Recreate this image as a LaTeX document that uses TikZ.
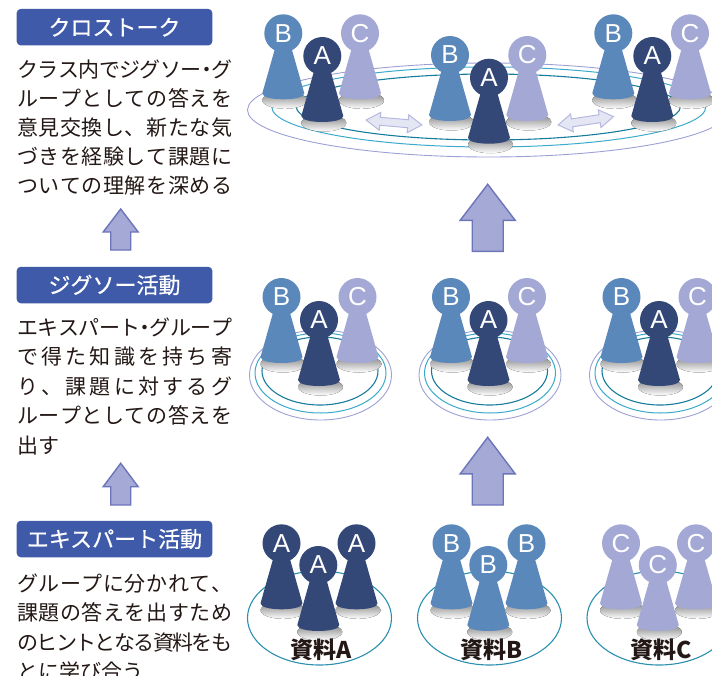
\documentclass[tikz,border=0pt]{standalone}
\usepackage{fontspec}
\setmainfont{Liberation Sans}
\newfontfamily\jpfont{Noto Sans CJK JP}
\newfontfamily\jpmedium{Noto Sans CJK JP}[FakeBold=0.6]

\definecolor{pawnA}{HTML}{344878}
\definecolor{pawnB}{HTML}{5B88BA}
\definecolor{pawnC}{HTML}{A3A8D5}
\definecolor{shade}{HTML}{D9DBDB}
\definecolor{boxblue}{HTML}{3F5AA8}
\definecolor{arrowfill}{HTML}{A4A9D6}
\definecolor{arrowline}{HTML}{6C74BA}
\definecolor{dblfill}{HTML}{E4E6F4}
\definecolor{dblline}{HTML}{B5B9DF}
\definecolor{ringpurple}{HTML}{9DA0D4}
\definecolor{ringteal}{HTML}{3BAACB}
\definecolor{ringdark}{HTML}{177C9C}
\definecolor{groupring}{HTML}{2B8FAE}
\definecolor{ink}{HTML}{231815}

% justified Japanese lines: glue between every character
\makeatletter
\def\jsep{\hskip 0pt plus 1fil minus 1fil\relax}
\def\sp@first#1{#1\sp@next}
\def\sp@next#1{\ifx\relax#1\else\jsep#1\expandafter\sp@next\fi}
\newcommand\jline[1]{\hbox to 215pt{\sp@first#1\relax}}
\makeatother
\newcommand\hdot{\makebox[0.5em]{・}}

\tikzset{
  bodytext/.style={anchor=base west, inner sep=0pt, text=ink,
    font=\jpfont\fontsize{21}{21}\selectfont},
  labelbox/.style={fill=boxblue, rounded corners=4pt, inner sep=0pt,
    minimum width=195.6pt, minimum height=36.5pt, text=white,
    font=\jpmedium\fontsize{22}{22}\selectfont},
  reslabel/.style={inner sep=0pt, text=ink,
    font=\jpfont\bfseries\fontsize{23}{23}\selectfont},
  pawnletter/.style={inner sep=0pt, text=white,
    font=\fontsize{26}{26}\selectfont},
  blockarrow/.style={fill=arrowfill, draw=arrowline, line width=1.4pt, line join=miter},
  dblstyle/.style={fill=dblfill, draw=dblline, line width=1pt},
  ringA/.style={draw=ringpurple, line width=0.9pt},
  ringB/.style={draw=ringteal, line width=1pt},
  ringC/.style={draw=ringdark, line width=1.1pt},
  pics/pawn/.style n args={2}{code={
    \fill[shade] (1.5,67) ellipse [x radius=22.5, y radius=8.5];
    \fill[#1] (-4,0) -- (-21,60) .. controls (-21,68) and (21,68) .. (21,60) -- (4,0) -- cycle;
    \fill[#1] (0,0) circle [radius=19];
    \node[pawnletter] (-l) at (0,0) {#2};
  }},
  pics/uparrow/.style n args={4}{code={
    \filldraw[blockarrow] (0,0) -- (#1,#2) -- (#3,#2) -- (#3,#4) -- (-#3,#4)
      -- (-#3,#2) -- (-#1,#2) -- cycle;
  }},
  pics/dblarrow/.style={code={
    \filldraw[dblstyle] (-28,0) -- (-14,-9) -- (-14,-4) -- (14,-4) -- (14,-9)
      -- (28,0) -- (14,9) -- (14,4) -- (-14,4) -- (-14,9) -- cycle;
  }},
}

\begin{document}
\begin{tikzpicture}[x=1pt,y=-1pt]
\useasboundingbox (0,0) rectangle (712,675);
\clip (0,0) rectangle (712,675);

% ---------- cross talk: whole class ----------
\draw[ringA] (488.5,110) ellipse [x radius=241, y radius=47];
\draw[ringB] (488.8,107) ellipse [x radius=217, y radius=40];
\draw[ringC] (488.3,107) ellipse [x radius=192, y radius=33];

\pic (t1-b) at (283.3,33.3) {pawn={pawnB}{B}};
\pic (t1-c) at (360,33.3) {pawn={pawnC}{C}};
\pic (t1-a) at (322.3,56) {pawn={pawnA}{A}};
\pic (t2-b) at (450,55) {pawn={pawnB}{B}};
\pic (t2-c) at (527.3,55) {pawn={pawnC}{C}};
\pic (t2-a) at (489,77.7) {pawn={pawnA}{A}};
\pic (t3-b) at (613.3,33.3) {pawn={pawnB}{B}};
\pic (t3-c) at (690,33.3) {pawn={pawnC}{C}};
\pic (t3-a) at (652.3,56) {pawn={pawnA}{A}};

\pic[rotate=-5] (x1) at (394,122.5) {dblarrow};
\pic[rotate=8.6] (x2) at (585.8,120.8) {dblarrow};

% ---------- upward block arrows ----------
\pic (up1) at (487.7,184.3) {uparrow={27.5}{36}{15.5}{67}};
\pic (up2) at (487.7,437.3) {uparrow={27.5}{36.5}{15.5}{67.7}};
\pic (up3) at (120.7,209) {uparrow={17.5}{23}{10}{41}};
\pic (up4) at (120.7,463.3) {uparrow={17.5}{23.4}{10}{41.7}};

% ---------- jigsaw groups ----------
\foreach \ax/\nm in {319/m1, 488.5/m2, 659/m3}{
  \draw[ringA] (\ax+1.5,375) ellipse [x radius=71, y radius=45];
  \draw[ringB] (\ax+1.5,373) ellipse [x radius=65.5, y radius=40];
  \draw[ringC] (\ax+1,371) ellipse [x radius=58, y radius=34];
  \pic (\nm-b) at (\ax-37.5,297) {pawn={pawnB}{B}};
  \pic (\nm-c) at (\ax+38.5,297) {pawn={pawnC}{C}};
  \pic (\nm-a) at (\ax,320) {pawn={pawnA}{A}};
}

% ---------- expert groups ----------
\foreach \ax/\lt/\col/\nm in {319/A/pawnA/e1, 489/B/pawnB/e2, 658.5/C/pawnC/e3}{
  \draw[draw=groupring, line width=1.1pt] (\ax+0.5,618) ellipse [x radius=72, y radius=47];
  \pic (\nm-l) at (\ax-37.5,543.3) {pawn={\col}{\lt}};
  \pic (\nm-r) at (\ax+37.5,543.3) {pawn={\col}{\lt}};
  \pic (\nm-m) at (\ax-0.7,565) {pawn={\col}{\lt}};
  \node[reslabel] (\nm-t) at (\ax+2.5,650) {資料\lt};
}

% ---------- left column ----------
\node[labelbox] (h1) at (114.5,27.2) {クロストーク};
\node[bodytext] (p1a) at (17,77) {\jline{クラス内でジグソー\hdot グ}};
\node[bodytext] (p1b) at (17,106) {\jline{ループとしての答えを}};
\node[bodytext] (p1c) at (17,135) {\jline{意見交換し、新たな気}};
\node[bodytext] (p1d) at (17,164) {\jline{づきを経験して課題に}};
\node[bodytext] (p1e) at (17,193) {\jline{ついての理解を深める}};

\node[labelbox] (h2) at (114.5,285) {ジグソー活動};
\node[bodytext] (p2a) at (17,335) {\jline{エキスパート\hdot グループ}};
\node[bodytext] (p2b) at (17,364.5) {\jline{で得た知識を持ち寄}};
\node[bodytext] (p2c) at (17,394) {\jline{り、課題に対するグ}};
\node[bodytext] (p2d) at (17,423.5) {\jline{ループとしての答えを}};
\node[bodytext] (p2e) at (17,453) {出す};

\node[labelbox] (h3) at (114.5,539) {エキスパート活動};
\node[bodytext] (p3a) at (17,591.5) {\jline{グループに分かれて、}};
\node[bodytext] (p3b) at (17,620.5) {\jline{課題の答えを出すため}};
\node[bodytext] (p3c) at (17,650) {\jline{のヒントとなる資料をも}};
\node[bodytext] (p3d) at (17,679) {とに学び合う};
\end{tikzpicture}
\end{document}
